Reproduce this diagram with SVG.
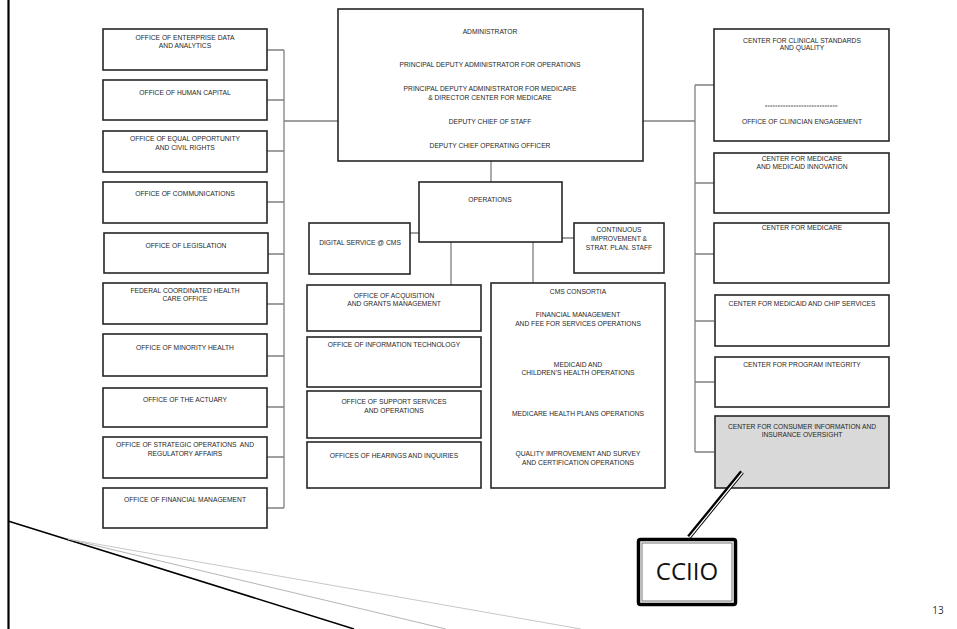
<svg xmlns="http://www.w3.org/2000/svg" width="957" height="629" viewBox="0 0 957 629">
<style>
.b{fill:#fff;stroke:#262626;stroke-width:1.6}
.g{fill:#d9d9d9;stroke:#262626;stroke-width:1.6}
.t{font-family:"Liberation Sans",Arial,sans-serif;font-size:6.7px;fill:#262626;text-anchor:middle}
.c{fill:none;stroke:#808080;stroke-width:1.3}
</style>
<rect width="957" height="629" fill="#fff"/>
<g id="slide-decor">
<line x1="8.5" y1="0" x2="8.5" y2="629" stroke="#000" stroke-width="2.2"/>
<line x1="8" y1="521" x2="354" y2="629" stroke="#000" stroke-width="1.5"/>
<line x1="68" y1="539" x2="446" y2="629" stroke="#b5b5b5" stroke-width="1"/>
<line x1="68" y1="539" x2="581" y2="629" stroke="#c8c8c8" stroke-width="1"/>
<text x="938" y="614" font-family="'Open Sans','Noto Sans',sans-serif" font-size="10" fill="#333" text-anchor="middle">13</text>
</g>
<g id="connectors">
<path class="c" d="M267,50H284M267,100H284M267,151H284M267,202H284M268,254H284M267,304H284M267,356H284M267,407H284M267,457H284M267,508H284M284,50V508M284,121H338"/>
<path class="c" d="M643,121H695M695,85V452M695,85H714M695,183H714M695,254H714M695,321H714M695,382H714M695,452H714"/>
<path class="c" d="M491,161V182M410,233H419M562,238H574M451,242V285M533,242V283"/>
</g>
<g id="n-oeda"><rect class="b" x="103" y="29" width="164" height="41"/><text class="t" x="185" y="39.5">OFFICE OF ENTERPRISE DATA</text><text class="t" x="185" y="47.5">AND ANALYTICS</text></g>
<g id="n-ohc"><rect class="b" x="103" y="80" width="164" height="40"/><text class="t" x="185" y="94.5">OFFICE OF HUMAN CAPITAL</text></g>
<g id="n-oeocr"><rect class="b" x="103" y="131" width="164" height="41"/><text class="t" x="185" y="140.5">OFFICE OF EQUAL OPPORTUNITY</text><text class="t" x="185" y="149.5">AND CIVIL RIGHTS</text></g>
<g id="n-oc"><rect class="b" x="103" y="182" width="164" height="41"/><text class="t" x="185" y="195.5">OFFICE OF COMMUNICATIONS</text></g>
<g id="n-ol"><rect class="b" x="104" y="233" width="164" height="40"/><text class="t" x="186" y="247.5">OFFICE OF LEGISLATION</text></g>
<g id="n-fchco"><rect class="b" x="103" y="283" width="164" height="41"/><text class="t" x="185" y="292.5">FEDERAL COORDINATED HEALTH</text><text class="t" x="185" y="300.5">CARE OFFICE</text></g>
<g id="n-omh"><rect class="b" x="103" y="334" width="164" height="42"/><text class="t" x="185" y="349.5">OFFICE OF MINORITY HEALTH</text></g>
<g id="n-oact"><rect class="b" x="103" y="388" width="164" height="39"/><text class="t" x="185" y="401.5">OFFICE OF THE ACTUARY</text></g>
<g id="n-osora"><rect class="b" x="103" y="437" width="164" height="41"/><text class="t" x="185" y="446.5" xml:space="preserve">OFFICE OF STRATEGIC OPERATIONS  AND</text><text class="t" x="185" y="455.5">REGULATORY AFFAIRS</text></g>
<g id="n-ofm"><rect class="b" x="103" y="488" width="164" height="40"/><text class="t" x="185" y="501.5">OFFICE OF FINANCIAL MANAGEMENT</text></g>
<g id="n-admin"><rect class="b" x="338" y="9" width="305" height="152"/>
<text class="t" x="490" y="34.4">ADMINISTRATOR</text>
<text class="t" x="490" y="67.4">PRINCIPAL DEPUTY ADMINISTRATOR FOR OPERATIONS</text>
<text class="t" x="490" y="91.4">PRINCIPAL DEPUTY ADMINISTRATOR FOR MEDICARE</text>
<text class="t" x="490" y="100.4">&amp; DIRECTOR CENTER FOR MEDICARE</text>
<text class="t" x="490" y="124.4">DEPUTY CHIEF OF STAFF</text>
<text class="t" x="490" y="148.4">DEPUTY CHIEF OPERATING OFFICER</text></g>
<g id="n-ops"><rect class="b" x="419" y="182" width="143" height="60"/><text class="t" x="490" y="202.4">OPERATIONS</text></g>
<g id="n-digital"><rect class="b" x="309" y="223" width="101" height="51"/><text class="t" x="360" y="245.4">DIGITAL SERVICE @ CMS</text></g>
<g id="n-cisp"><rect class="b" x="574" y="223" width="90" height="50"/><text class="t" x="619" y="232.4">CONTINUOUS</text><text class="t" x="619" y="241.4">IMPROVEMENT &amp;</text><text class="t" x="619" y="250.4">STRAT. PLAN. STAFF</text></g>
<g id="n-oagm"><rect class="b" x="307" y="285" width="174" height="46"/><text class="t" x="394" y="298.4">OFFICE OF ACQUISITION</text><text class="t" x="394" y="306.4">AND GRANTS MANAGEMENT</text></g>
<g id="n-oit"><rect class="b" x="307" y="337" width="174" height="50"/><text class="t" x="394" y="347.4">OFFICE OF INFORMATION TECHNOLOGY</text></g>
<g id="n-osso"><rect class="b" x="307" y="391" width="174" height="47"/><text class="t" x="394" y="404.4">OFFICE OF SUPPORT SERVICES</text><text class="t" x="394" y="413.4">AND OPERATIONS</text></g>
<g id="n-ohi"><rect class="b" x="307" y="442" width="174" height="46"/><text class="t" x="394" y="458.4">OFFICES OF HEARINGS AND INQUIRIES</text></g>
<g id="n-consortia"><rect class="b" x="491" y="283" width="174" height="205"/>
<text class="t" x="578" y="294.4">CMS CONSORTIA</text>
<text class="t" x="578" y="317.4">FINANCIAL MANAGEMENT</text>
<text class="t" x="578" y="326.4">AND FEE FOR SERVICES OPERATIONS</text>
<text class="t" x="578" y="367.4">MEDICAID AND</text>
<text class="t" x="578" y="375.4">CHILDREN’S HEALTH OPERATIONS</text>
<text class="t" x="578" y="416.4">MEDICARE HEALTH PLANS OPERATIONS</text>
<text class="t" x="578" y="456.4">QUALITY IMPROVEMENT AND SURVEY</text>
<text class="t" x="578" y="465.4">AND CERTIFICATION OPERATIONS</text></g>
<g id="n-ccsq"><rect class="b" x="714" y="29" width="175" height="112"/>
<text class="t" x="802" y="43.4">CENTER FOR CLINICAL STANDARDS</text>
<text class="t" x="802" y="50.4">AND QUALITY</text>
<line x1="765" y1="106" x2="838" y2="106" stroke="#444" stroke-width="0.9" stroke-dasharray="2 0.6"/>
<text class="t" x="802" y="124.4">OFFICE OF CLINICIAN ENGAGEMENT</text></g>
<g id="n-cmmi"><rect class="b" x="714" y="153" width="175" height="60"/><text class="t" x="802" y="161.4">CENTER FOR MEDICARE</text><text class="t" x="802" y="169.4">AND MEDICAID INNOVATION</text></g>
<g id="n-cm"><rect class="b" x="714" y="223" width="175" height="60"/><text class="t" x="802" y="230.4">CENTER FOR MEDICARE</text></g>
<g id="n-cmcs"><rect class="b" x="715" y="295" width="174" height="51"/><text class="t" x="802" y="306.4">CENTER FOR MEDICAID AND CHIP SERVICES</text></g>
<g id="n-cpi"><rect class="b" x="715" y="357" width="174" height="50"/><text class="t" x="802" y="367.4">CENTER FOR PROGRAM INTEGRITY</text></g>
<g id="n-cciio-box"><rect class="g" x="715" y="416" width="174" height="72"/><text class="t" x="802" y="429.4">CENTER FOR CONSUMER INFORMATION AND</text><text class="t" x="802" y="437.4">INSURANCE OVERSIGHT</text></g>
<g id="n-cciio-callout">
<line x1="742" y1="472" x2="689" y2="537" stroke="#000" stroke-width="4.5"/>
<line x1="742.5" y1="472.5" x2="689.5" y2="537.5" stroke="#fff" stroke-width="1.2"/>
<rect x="638.5" y="539.5" width="97" height="65" rx="2" fill="#fff" stroke="#000" stroke-width="3.5"/>
<rect x="642" y="543" width="90" height="58" fill="none" stroke="#777" stroke-width="1"/>
<text x="687" y="580" font-family="'Open Sans','Noto Sans',sans-serif" font-size="24" fill="#111" text-anchor="middle">CCIIO</text>
</g>
</svg>
